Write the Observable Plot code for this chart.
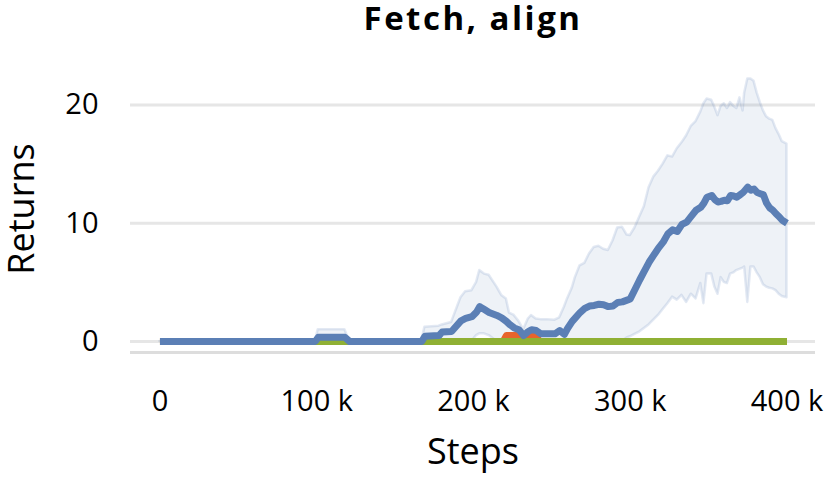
<!DOCTYPE html>
<html><head><meta charset="utf-8">
<script src="https://cdn.jsdelivr.net/npm/d3@7"></script>
<script src="https://cdn.jsdelivr.net/npm/@observablehq/plot@0.6"></script>
<style>
body{margin:0;background:#fff;font-family:'Open Sans',sans-serif;}
</style></head><body>
<div id="chart"></div>
<script>
// Steps in thousands
const steps = [0, 99, 101, 118, 121, 167, 169, 178, 180, 186, 192, 195, 199, 202, 204, 207, 210, 215, 218, 221, 223, 226, 229, 232, 235, 237, 240, 243, 247, 252, 255, 258, 260, 263, 265, 268, 271, 274, 277, 280, 283, 286, 289, 292, 295, 298, 300, 303, 306, 309, 312, 315, 318, 321, 324, 327, 330, 333, 336, 339, 342, 345, 347, 349, 352, 354, 356, 358, 360, 362, 364, 366, 368, 370, 372, 373, 375, 377, 379, 381, 383, 385, 387, 389, 391, 393, 395, 397, 400];
const meanReturns = [0, 0, 0.35, 0.35, 0, 0, 0.45, 0.5, 0.8, 0.85, 1.75, 1.95, 2.1, 2.5, 2.95, 2.7, 2.45, 2.2, 2.0, 1.7, 1.45, 1.15, 1.0, 0.5, 0.85, 1.0, 0.93, 0.65, 0.65, 0.65, 0.93, 0.6, 1.1, 1.7, 2.0, 2.45, 2.8, 3.0, 3.05, 3.15, 3.1, 2.95, 3.0, 3.3, 3.35, 3.5, 3.6, 4.4, 5.2, 5.95, 6.7, 7.3, 7.9, 8.4, 9.1, 9.45, 9.3, 9.9, 10.1, 10.6, 11.1, 11.35, 11.7, 12.2, 12.35, 12.0, 11.8, 11.85, 11.95, 11.9, 12.35, 12.3, 12.2, 12.4, 12.6, 12.75, 13.05, 12.8, 12.9, 12.6, 12.5, 12.4, 11.7, 11.3, 11.1, 10.8, 10.55, 10.25, 10.0];
const upperReturns = [0, 0, 1.0, 1.0, 0, 0, 1.2, 1.3, 1.4, 1.6, 3.7, 4.2, 4.3, 5.0, 6.0, 5.7, 5.6, 4.6, 3.9, 3.6, 2.4, 2.2, 1.7, 1.0, 1.9, 2.2, 1.9, 1.85, 1.85, 1.8, 2.0, 2.9, 3.6, 4.5, 5.4, 6.4, 6.6, 7.4, 7.95, 8.05, 7.8, 7.7, 8.5, 9.6, 9.67, 9.0, 8.96, 9.6, 10.5, 11.4, 13.0, 13.9, 14.4, 15.0, 15.7, 15.6, 16.3, 16.8, 17.4, 18.2, 18.6, 19.4, 20.1, 20.5, 20.4, 19.8, 19.1, 19.9, 20.1, 19.7, 20.2, 19.9, 19.7, 20.6, 19.5, 21.0, 22.2, 22.2, 22.0, 21.0, 20.2, 19.5, 19.0, 18.8, 18.7, 18.0, 17.5, 16.9, 16.7];
const lowerReturns = [0, 0, 0, 0, 0, 0, 0, 0, 0, 0, 0, 0, 0, 0.5, 0.65, 0.65, 0.5, 0, 0, 0, 0, 0, 0, 0, 0, 0, 0, 0, 0, 0, 0, 0, 0, 0, 0, 0, 0, 0, 0, 0, 0, 0, 0, 0, 0, 0.3, 0.4, 0.6, 0.8, 1.1, 1.4, 1.8, 2.2, 2.7, 3.2, 3.75, 3.5, 3.9, 3.3, 4.0, 3.6, 4.9, 3.2, 5.7, 5.7, 4.6, 4.0, 5.4, 5.0, 4.9, 5.7, 5.8, 6.0, 6.1, 6.2, 6.3, 3.3, 6.3, 6.3, 5.8, 5.4, 4.8, 4.6, 4.5, 4.45, 4.3, 4.0, 3.8, 3.7];
const orangeSteps = [0, 219, 221, 230, 232, 235, 240, 242, 400];
const orangeReturns = [0, 0, 0.5, 0.5, 0.2, 0.5, 0.5, 0, 0];
const greenSteps = [0, 400];
const greenReturns = [0, 0];
const xTicks = [0, 100, 200, 300, 400];
const yTicks = [0, 10, 20];
const yBase = -0.93;
const titleText = "Fetch, align";

const blue = "#5b7fb5", orange = "#e8642c", green = "#8fb034";
const band = steps.map((s, i) => ({s, lo: lowerReturns[i], hi: upperReturns[i]}));
const meanData = steps.map((s, i) => ({s, v: meanReturns[i]}));
const orangeData = orangeSteps.map((s, i) => ({s, v: orangeReturns[i]}));
const greenData = greenSteps.map((s, i) => ({s, v: greenReturns[i]}));

const chart = Plot.plot({
  width: 829, height: 480,
  marginLeft: 130, marginRight: 14, marginTop: 65, marginBottom: 128,
  style: {fontFamily: "'Open Sans', sans-serif", fontSize: "29px", color: "#000", background: "#fff", overflow: "visible"},
  x: {domain: [-18.8, 418.2]},
  y: {domain: [yBase, 23.34]},
  marks: [
    Plot.gridY(yTicks, {stroke: "#e6e6e6", strokeOpacity: 1, strokeWidth: 3}),
    Plot.ruleY([yBase], {stroke: "#dddddd", strokeWidth: 3}),
    Plot.areaY(band, {x: "s", y1: "lo", y2: "hi", fill: blue, fillOpacity: 0.1, stroke: blue, strokeOpacity: 0.17, strokeWidth: 2.5, curve: "linear"}),
    Plot.line(orangeData, {x: "s", y: "v", stroke: orange, strokeWidth: 7, strokeLinecap: "butt"}),
    Plot.line(greenData, {x: "s", y: "v", stroke: green, strokeWidth: 7, strokeLinecap: "butt"}),
    Plot.line(meanData, {x: "s", y: "v", stroke: blue, strokeWidth: 7, strokeLinecap: "butt", strokeLinejoin: "round"}),
    Plot.axisX(xTicks, {tickSize: 0, tickPadding: 38, label: null, fontSize: 29, tickFormat: d => d === 0 ? "0" : `${d} k`}),
    Plot.axisY(yTicks, {tickSize: 0, tickPadding: 32, label: null, fontSize: 29}),
    Plot.text([titleText], {text: d => d, frameAnchor: "top", dy: -45.6, textAnchor: "middle", lineAnchor: "middle", fontSize: 33, fontWeight: "bold"}),
    Plot.text(["Steps"], {text: d => d, frameAnchor: "bottom", dy: 99.5, textAnchor: "middle", lineAnchor: "middle", fontSize: 36}),
    Plot.text(["Returns"], {text: d => d, frameAnchor: "left", rotate: -90, dx: -108.5, textAnchor: "middle", lineAnchor: "middle", fontSize: 36})
  ]
});
d3.select(chart).selectAll("text").filter(function() { return this.textContent === titleText; }).style("letter-spacing", "2.5px");
document.getElementById("chart").appendChild(chart);
</script>
</body></html>
